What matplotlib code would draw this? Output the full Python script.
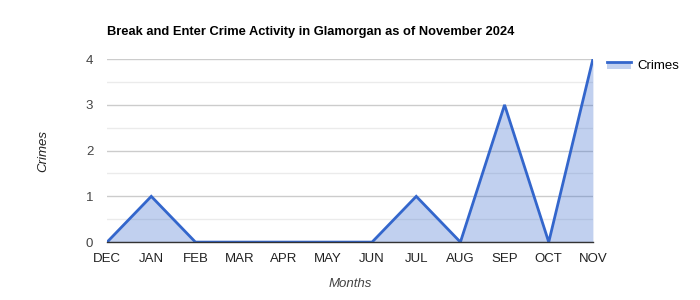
import matplotlib.pyplot as plt
from matplotlib.lines import Line2D
from matplotlib.patches import Rectangle
from matplotlib.legend_handler import HandlerBase

plt.rcParams['font.family'] = ['Liberation Sans', 'DejaVu Sans']

months = ["DEC", "JAN", "FEB", "MAR", "APR", "MAY", "JUN", "JUL", "AUG", "SEP", "OCT", "NOV"]
crimes = [0, 1, 0, 0, 0, 0, 0, 1, 0, 3, 0, 4]

color = "#3366cc"


class AreaHandler(HandlerBase):
    # line on top with the filled area below it, like the reference legend
    def create_artists(self, legend, orig_handle, xdescent, ydescent, width, height, fontsize, trans):
        top = height * 0.75
        rect = Rectangle((-xdescent, -ydescent), width, top, facecolor=color, alpha=0.3,
                         linewidth=0, transform=trans)
        line = Line2D([-xdescent, -xdescent + width], [top - ydescent, top - ydescent],
                      color=color, linewidth=2, transform=trans)
        return [rect, line]


fig = plt.figure(figsize=(7, 3), dpi=100)
ax = fig.add_axes([0.153, 0.193, 0.694, 0.61])

x = list(range(len(months)))
ax.fill_between(x, crimes, 0, color=color, alpha=0.3, linewidth=0)
ax.plot(x, crimes, color=color, linewidth=2, solid_joinstyle="miter")

ax.set_xlim(0, len(months) - 1)
ax.set_ylim(0, 4)
ax.set_xticks(x)
ax.set_xticklabels(months, fontsize=9.5, color="#222222")
ax.set_yticks([0, 1, 2, 3, 4])
ax.set_yticks([0.5, 1.5, 2.5, 3.5], minor=True)
ax.tick_params(axis="y", which="major", labelsize=9.5, labelcolor="#444444", length=0, pad=10)
ax.tick_params(axis="y", which="minor", length=0)
ax.tick_params(axis="x", length=0, pad=8)
ax.grid(axis="y", which="major", color="#cccccc", linewidth=1)
ax.grid(axis="y", which="minor", color="#ebebeb", linewidth=1)
ax.set_axisbelow(True)
for s in ["top", "right", "left"]:
    ax.spines[s].set_visible(False)
ax.spines["bottom"].set_color("#333333")
ax.spines["bottom"].set_linewidth(1)

ax.set_xlabel("Months", fontsize=9.5, style="italic", color="#444444", labelpad=9)
ax.set_ylabel("Crimes", fontsize=9.5, style="italic", color="#222222", labelpad=26)

fig.text(0.153, 0.885, "Break and Enter Crime Activity in Glamorgan as of November 2024",
         fontsize=9.3, fontweight="bold", color="#000000")

leg = ax.legend([object()], ["Crimes"], handler_map={object: AreaHandler()},
                loc="upper left", bbox_to_anchor=(1.005, 1.06),
                frameon=False, fontsize=9.5, handlelength=1.8, handletextpad=0.5)

fig.savefig("out.png", dpi=100)
